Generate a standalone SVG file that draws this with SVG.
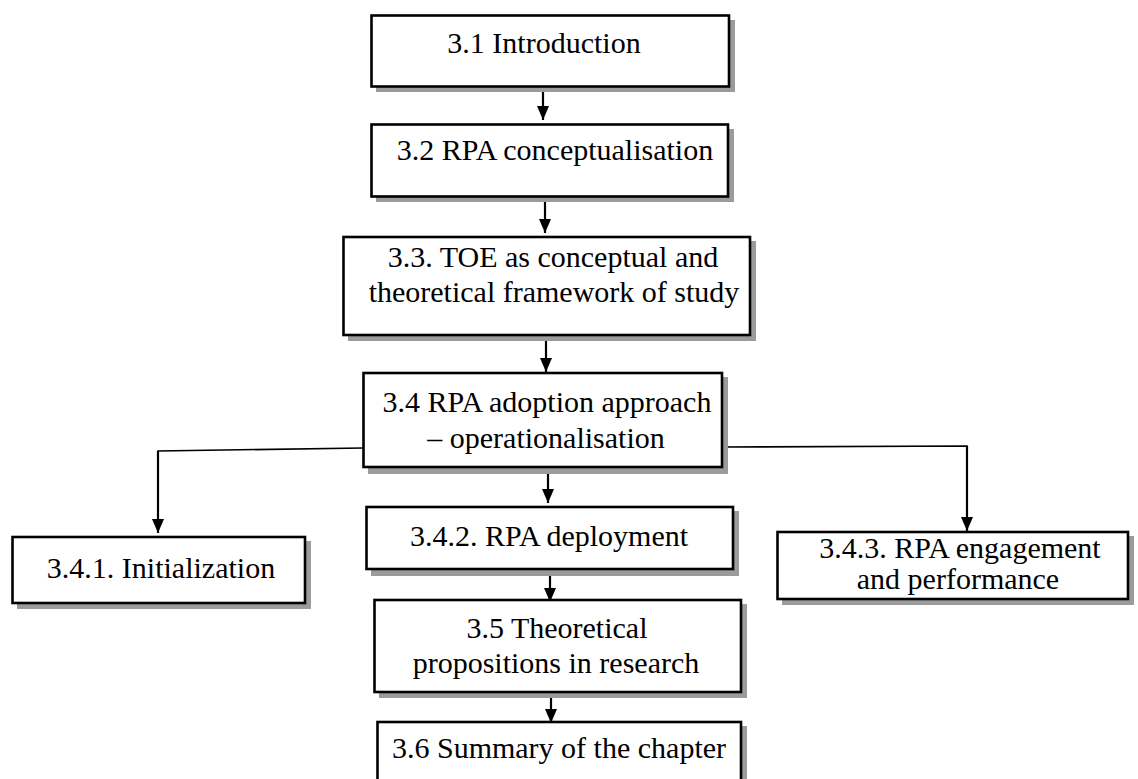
<svg xmlns="http://www.w3.org/2000/svg" width="1138" height="779" viewBox="0 0 1138 779">
  <style>
    .shadow { fill: #9b9b9b; stroke: none; }
    .box { fill: #ffffff; stroke: #000000; stroke-width: 2.6; }
    .label { font-family: "Liberation Serif", "Times New Roman", serif; font-size: 30px; fill: #000000; text-anchor: middle; }
    .flow { fill: none; stroke: #000000; stroke-width: 2.2; }
    .branch { fill: none; stroke: #000000; stroke-width: 1.6; }
  </style>
  <defs>
    <marker id="head" viewBox="0 0 14 14" refX="14" refY="7" markerWidth="14" markerHeight="14" markerUnits="userSpaceOnUse" orient="auto">
      <path d="M0,1 L14,7 L0,13 Z" fill="#000000"/>
    </marker>
  </defs>

  <rect width="1138" height="779" fill="#ffffff"/>

  <!-- connectors -->
  <g id="connectors">
    <line class="flow" x1="543" y1="87" x2="543" y2="120" marker-end="url(#head)"/>
    <line class="flow" x1="545" y1="198" x2="545" y2="233" marker-end="url(#head)"/>
    <line class="flow" x1="546" y1="336" x2="546" y2="372" marker-end="url(#head)"/>
    <line class="flow" x1="548" y1="468" x2="548" y2="503" marker-end="url(#head)"/>
    <line class="flow" x1="550" y1="570" x2="550" y2="602" marker-end="url(#head)"/>
    <line class="flow" x1="551" y1="693" x2="551" y2="723" marker-end="url(#head)"/>
    <polyline class="branch" points="363,448 158,451 158,476"/>
    <line class="flow" x1="158" y1="451" x2="158" y2="533" marker-end="url(#head)"/>
    <polyline class="branch" points="722,447 967,446 967,470"/>
    <line class="flow" x1="967" y1="446" x2="967" y2="531" marker-end="url(#head)"/>
  </g>

  <g id="n31">
    <rect class="shadow" x="376" y="20" width="359" height="72"/>
    <rect class="box" x="371.5" y="15.5" width="357.5" height="71"/>
    <text class="label" x="544" y="53">3.1 Introduction</text>
  </g>

  <g id="n32">
    <rect class="shadow" x="376" y="129" width="358" height="73"/>
    <rect class="box" x="371.5" y="124.5" width="356.5" height="72"/>
    <text class="label" x="555" y="160">3.2 RPA conceptualisation</text>
  </g>

  <g id="n33">
    <rect class="shadow" x="348" y="241" width="408" height="100"/>
    <rect class="box" x="343.5" y="237" width="406.5" height="98"/>
    <text class="label" x="553" y="267">3.3. TOE as conceptual and</text>
    <text class="label" x="554" y="302">theoretical framework of study</text>
  </g>

  <g id="n34">
    <rect class="shadow" x="368" y="377" width="360" height="97"/>
    <rect class="box" x="363.5" y="373" width="358.5" height="94"/>
    <text class="label" x="547" y="412">3.4 RPA adoption approach</text>
    <text class="label" x="546" y="448">– operationalisation</text>
  </g>

  <g id="n341">
    <rect class="shadow" x="17" y="541" width="294" height="68"/>
    <rect class="box" x="12.5" y="537" width="292.5" height="66"/>
    <text class="label" x="161" y="578">3.4.1. Initialization</text>
  </g>

  <g id="n342">
    <rect class="shadow" x="371" y="511" width="368" height="65"/>
    <rect class="box" x="366.5" y="507" width="366.5" height="62"/>
    <text class="label" x="549" y="546">3.4.2. RPA deployment</text>
  </g>

  <g id="n343">
    <rect class="shadow" x="782" y="536" width="352" height="69"/>
    <rect class="box" x="777.5" y="532" width="350.5" height="67"/>
    <text class="label" x="960" y="558">3.4.3. RPA engagement</text>
    <text class="label" x="958" y="589">and performance</text>
  </g>

  <g id="n35">
    <rect class="shadow" x="379" y="604" width="368" height="94"/>
    <rect class="box" x="374.5" y="600" width="366.5" height="92"/>
    <text class="label" x="557" y="638">3.5 Theoretical</text>
    <text class="label" x="556" y="673">propositions in research</text>
  </g>

  <g id="n36">
    <rect class="shadow" x="382" y="726" width="365" height="80"/>
    <rect class="box" x="377.5" y="722" width="363.5" height="78"/>
    <text class="label" x="559" y="758">3.6 Summary of the chapter</text>
  </g>
</svg>
